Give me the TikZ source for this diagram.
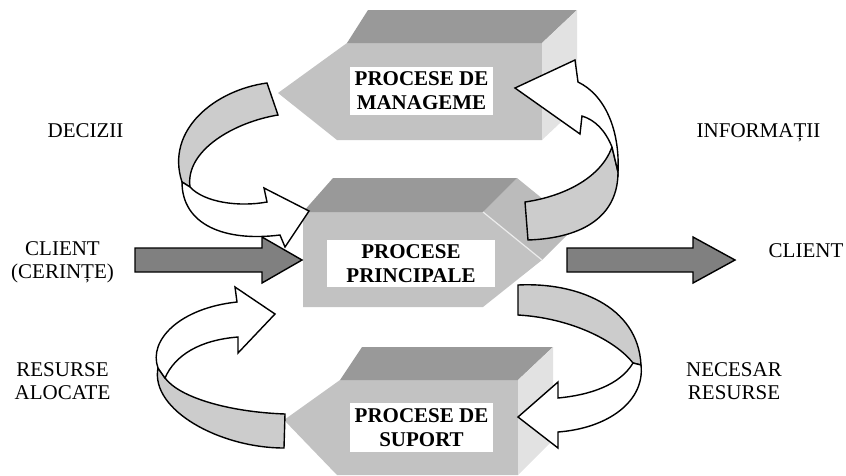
\documentclass[tikz,border=0pt]{standalone}
\usepackage{fontspec}
\setmainfont{Liberation Serif}
\begin{document}
\definecolor{topface}{HTML}{999999}
\definecolor{frontface}{HTML}{C2C2C2}
\definecolor{bevelface}{HTML}{BBBBBB}
\definecolor{sideface}{HTML}{E2E2E2}
\definecolor{ribbongray}{HTML}{CCCCCC}
\definecolor{flowgray}{HTML}{808080}
\begin{tikzpicture}[x=1pt,y=-1pt,
  outline/.style={draw=black,line width=1.4pt,line join=miter},
  ribbonback/.style={outline,fill=ribbongray},
  ribbonfront/.style={outline,fill=white},
  flowarrow/.style={outline,fill=flowgray},
  titlebox/.style={fill=white,inner sep=0pt,align=center,
    font=\bfseries\fontsize{21}{24}\selectfont},
  lbl/.style={inner sep=0pt,align=center,font=\fontsize{21}{23}\selectfont}]
\useasboundingbox (0,0) rectangle (846,475);

% management block (points left)
\fill[frontface] (278,93) -- (347,43) -- (542,43) -- (542,140) -- (337,140) -- cycle;
\fill[topface] (347,43) -- (368,10) -- (577,10) -- (542,43) -- cycle;
\fill[sideface] (542,43) -- (577,10) -- (577,107) -- (542,140) -- cycle;

% main block (points right)
\fill[bevelface] (483,212) -- (517,178) -- (576,226) -- (542,260) -- cycle;
\fill[frontface] (303,212) -- (483,212) -- (542,260) -- (483,307) -- (303,307) -- cycle;
\fill[topface] (303,212) -- (333,178) -- (517,178) -- (483,212) -- cycle;
\draw[white!85!gray,line width=1.2pt] (483,212) -- (542,260);

% support block (points left)
\fill[frontface] (284,420) -- (340,380) -- (518,380) -- (518,475) -- (337,475) -- cycle;
\fill[topface] (340,380) -- (362,347) -- (553,347) -- (518,380) -- cycle;
\fill[sideface] (518,380) -- (553,347) -- (553,440) -- (518,475) -- cycle;

% client flow
\filldraw[flowarrow] (135,248) -- (262,248) -- (262,237) -- (302,260) -- (262,283) -- (262,272) -- (135,272) -- cycle;
\filldraw[flowarrow] (567,248) -- (693,248) -- (693,237) -- (735,260) -- (693,283) -- (693,272) -- (567,272) -- cycle;

% decisions loop
\filldraw[ribbonback] (267,83) .. controls (215,90) and (165,130) .. (182,182)
  -- (190,187) .. controls (185,150) and (235,122) .. (278,115) -- cycle;
\filldraw[ribbonfront] (190,187) .. controls (205,203) and (240,207) .. (267,202)
  -- (264,188) -- (309,211) -- (285,247) -- (280,235)
  .. controls (225,242) and (182,225) .. (182,182) -- cycle;

% information loop
\filldraw[ribbonback] (525,202) .. controls (560,197) and (600,180) .. (612,147)
  -- (618,172) .. controls (618,215) and (585,238) .. (528,240) -- cycle;
\filldraw[ribbonfront] (612,147) .. controls (605,130) and (595,120) .. (582,116)
  -- (580,134) -- (515,88) -- (575,60) -- (578,82)
  .. controls (605,95) and (620,130) .. (618,172) -- cycle;

% resource needs loop
\filldraw[ribbonback] (518,285) .. controls (575,282) and (638,305) .. (641,365)
  -- (633,363) .. controls (615,340) and (570,318) .. (518,315) -- cycle;
\filldraw[ribbonfront] (633,363) .. controls (620,385) and (590,395) .. (558,398)
  -- (558,382) -- (518,417) -- (558,448) -- (558,432)
  .. controls (610,428) and (645,400) .. (641,365) -- cycle;

% allocated resources loop
\filldraw[ribbonback] (285,414) .. controls (230,412) and (180,398) .. (165,378)
  -- (158,368) .. controls (150,410) and (220,448) .. (284,448) -- cycle;
\filldraw[ribbonfront] (158,368) .. controls (148,340) and (180,308) .. (237,302)
  -- (235,287) -- (275,314) -- (238,353) -- (238,337)
  .. controls (200,340) and (175,355) .. (165,378) -- cycle;

% block titles
\node[titlebox,minimum width=143pt,minimum height=48pt] (mgmt) at (421.5,91) {PROCESE DE\\MANAGEME};
\node[titlebox,minimum width=168pt,minimum height=47pt] (main) at (411,263.5) {PROCESE\\PRINCIPALE};
\node[titlebox,minimum width=143pt,minimum height=49pt] (supp) at (421.5,427.5) {PROCESE DE\\SUPORT};

% flow labels (base anchor sits on the last line)
\node[lbl,anchor=base] (dec) at (85.5,137) {DECIZII};
\node[lbl,anchor=base] (inf) at (758.5,137) {INFORMAȚII};
\node[lbl,anchor=base] (cin) at (62.5,278) {CLIENT\\(CERINȚE)};
\node[lbl,anchor=base] (cout) at (806,257) {CLIENT};
\node[lbl,anchor=base] (alloc) at (62.5,399) {RESURSE\\ALOCATE};
\node[lbl,anchor=base] (need) at (734,399) {NECESAR\\RESURSE};
\end{tikzpicture}
\end{document}
